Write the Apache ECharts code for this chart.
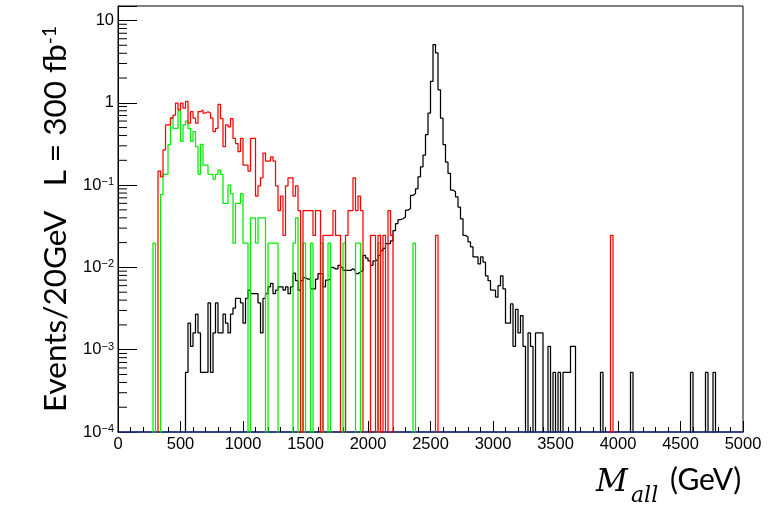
<!DOCTYPE html>
<html>
<head>
<meta charset="utf-8">
<script src="https://cdn.jsdelivr.net/npm/echarts@6/dist/echarts.min.js"></script>
<style>
  html, body { margin: 0; padding: 0; background: #fff; }
  #chart { width: 771px; height: 506px; }
</style>
</head>
<body>
<div id="chart"></div>
<script>
// Histograms of M_all in 20 GeV bins (events per bin for 300 fb^-1).
const BIN_WIDTH = 20;

// Black: resonance sample, dense bins from 540 GeV, then isolated bins in the tail.
const blackStart = 540;
const blackValues = [
  5.3e-4, 2.1e-3, 1.1e-3, 1.6e-3, 2.7e-3, 1.6e-3, 5.3e-4, 5.3e-4, 5.3e-4, 3.7e-3,
  5.3e-4, 1.6e-3, 3.7e-3, 1.6e-3, 1.6e-3, 2.7e-3, 2.1e-3, 1.6e-3, 2.7e-3, 3.2e-3,
  4.2e-3, 4.2e-3, 3.7e-3, 2.1e-3, 4.2e-3, 5.3e-3, 4.8e-3, 4.8e-3, 4.8e-3, 3.7e-3,
  1.6e-3, 4.2e-3, 4.8e-3, 5.8e-3, 6.4e-3, 4.8e-3, 5.3e-3, 5.8e-3, 5.8e-3, 5.3e-3,
  5.8e-3, 4.8e-3, 5.8e-3, 8.5e-3, 6.9e-3, 5.3e-3, 6.9e-3, 7.5e-3, 7.2e-3, 7.2e-3,
  5.5e-3, 5.5e-3, 7.2e-3, 8.4e-3, 8.4e-3, 5.8e-3, 7.0e-3, 7.2e-3, 1.0e-2, 9.6e-3,
  9.6e-3, 1.06e-2, 1.0e-2, 9.2e-3, 9.2e-3, 9.2e-3, 9.6e-3, 9.2e-3, 8.4e-3, 8.8e-3,
  9.2e-3, 1.4e-2, 1.3e-2, 1.2e-2, 1.06e-2, 1.2e-2, 1.25e-2, 1.4e-2, 1.6e-2, 1.7e-2,
  1.95e-2, 1.95e-2, 2.1e-2, 2.8e-2, 3.4e-2, 3.8e-2, 3.9e-2, 4.1e-2, 4.95e-2, 5.2e-2,
  7.5e-2, 7.9e-2, 9.0e-2, 0.126, 0.167, 0.232, 0.41, 0.75, 1.82, 5.1,
  4.04, 1.44, 0.65, 0.31, 0.19, 0.139, 0.087, 0.083, 0.072, 0.054,
  0.039, 0.0245, 0.0234, 0.0204, 0.0178, 0.0134, 0.0134, 0.011, 0.0134, 0.0116,
  7.9e-3, 6.9e-3, 5.3e-3, 5.3e-3, 4.35e-3, 6.0e-3, 7.9e-3, 5.5e-3, 2.1e-3, 2.1e-3,
  3.6e-3, 1.1e-3, 3.1e-3, 1.6e-3, 2.6e-3, 1.1e-3, 0, 1.6e-3, 1.1e-3, 0,
  1.6e-3, 1.6e-3, 1.6e-3, 0, 0, 1.1e-3, 0, 5.3e-4, 0, 5.3e-4,
  0, 5.3e-4, 5.3e-4, 5.3e-4, 1.1e-3, 1.1e-3
];
const blackTail = [[3860, 5.3e-4], [4100, 5.3e-4], [4580, 5.3e-4], [4700, 5.3e-4], [4760, 5.3e-4]];

// Red: background sample A.
const redStart = 320;
const redValues = [
  0.148, 0.126, 0.267, 0.54, 0.54, 0.65, 0.71, 0.99, 0.82, 0.99,
  0.86, 1.04, 0.565, 0.78, 0.65, 0.565, 0.78, 0.82, 0.75, 0.78,
  0.75, 0.65, 0.447, 0.49, 0.96, 0.64, 0.293, 0.54, 0.51, 0.64,
  0.37, 0.32, 0.255, 0.37, 0.175, 0.175, 0.148, 0.37, 0.37, 0.0735,
  0.098, 0.1225, 0.245, 0.196, 0.196, 0.22, 0.196, 0.098, 0.049, 0.0735,
  0.0245, 0.098, 0.1225, 0.1225, 0.0735, 0.098, 0.049, 0, 0.049, 0.049,
  0.049, 0.049, 0.0245, 0.049, 0.049, 0, 0.0245, 0.0245, 0.0245, 0.0245,
  0.049, 0.0245, 0.0245, 0, 0, 0.0245, 0.049, 0.049, 0.1225, 0.049,
  0.0735, 0.049, 0, 0, 0, 0.0245, 0.0245, 0, 0.0245, 0,
  0.0245, 0, 0.049, 0.0245
];
const redTail = [[2540, 0.0245], [3940, 0.0245]];

// Green: background sample B.
const greenStart = 280;
const greenValues = [
  0.0197, 0, 0, 0.077, 0.135, 0.135, 0.31, 0.66, 0.49, 0.49,
  0.80, 0.34, 0.54, 0.60, 0.49, 0.34, 0.447, 0.293, 0.135, 0.313,
  0.175, 0.175, 0.135, 0.135, 0.118, 0.135, 0.152, 0.135, 0.06, 0.06,
  0.1, 0.079, 0.0197, 0.06, 0.06, 0.079, 0.0197, 0.0197, 0, 0.04,
  0.04, 0.0197, 0.04, 0.04, 0.04, 0, 0.0197, 0.0197, 0.0197, 0.0197,
  0, 0, 0, 0, 0, 0, 0.0197, 0.04, 0, 0,
  0.0197, 0, 0, 0.0197, 0, 0, 0, 0.0197, 0, 0,
  0.0197, 0, 0, 0, 0, 0, 0.0197, 0, 0, 0,
  0, 0.0197, 0.0197
];
const greenTail = [[2080, 0.0197], [2360, 0.0197]];

// Axis ticks
const massTicks = [0, 500, 1000, 1500, 2000, 2500, 3000, 3500, 4000, 4500, 5000];
const decadeExponents = [-4, -3, -2, -1, 0, 1];
const minorMantissas = [2, 3, 4, 5, 6, 7, 8, 9];

const Y_MIN = 1e-4, Y_MAX = 15;
const BELOW_AXIS = 1e-6; // empty bins drop below the frame and get clipped

function stepPoints(start, values, tail) {
  const bins = new Map();
  values.forEach((v, i) => bins.set(start + i * BIN_WIDTH, v));
  tail.forEach(([x, v]) => bins.set(x, v));
  const edges = [...bins.keys()].sort((a, b) => a - b);
  const first = edges[0], last = edges[edges.length - 1];
  const pts = [[first, BELOW_AXIS]];
  for (let x = first; x <= last; x += BIN_WIDTH) {
    const v = bins.get(x) || 0;
    pts.push([x, v > 0 ? v : BELOW_AXIS]);
  }
  pts.push([last + BIN_WIDTH, BELOW_AXIS]);
  return pts;
}

function histSeries(name, color, pts, z) {
  return {
    name, type: 'line', step: 'end', data: pts, symbol: 'none', clip: true,
    lineStyle: { color, width: 1.25 }, z, animation: false, silent: true
  };
}

const minorTickData = [];
decadeExponents.forEach(e => minorMantissas.forEach(m => {
  const v = m * Math.pow(10, e);
  if (v > Y_MIN && v < Y_MAX) minorTickData.push([0, v]);
}));

function yLabel(v) {
  const lg = Math.log10(v);
  const e = Math.round(lg);
  if (Math.abs(lg - e) > 1e-6 || decadeExponents.indexOf(e) < 0) return '';
  if (e === 1) return '{b|10}';
  if (e === 0) return '{b|1}';
  return '{b|10}{s|\u2212' + (-e) + '}';
}

const chart = echarts.init(document.getElementById('chart'), null, { renderer: 'canvas' });
chart.setOption({
  animation: false,
  backgroundColor: '#fff',
  grid: { left: 118, right: 28, top: 6, bottom: 74, show: true, borderColor: '#000', borderWidth: 1, backgroundColor: 'transparent' },
  xAxis: {
    type: 'value', min: 0, max: 5000, interval: 500,
    axisLine: { show: true, lineStyle: { color: '#1c2f8c', width: 1.6 } },
    axisTick: { show: true, inside: true, length: 11, lineStyle: { color: '#000', width: 1 } },
    minorTick: { show: true, splitNumber: 5, length: 5, lineStyle: { color: '#000', width: 1 } },
    splitLine: { show: false },
    axisLabel: {
      color: '#000', fontSize: 16.5, fontFamily: 'Liberation Sans', margin: 4,
      formatter: v => massTicks.indexOf(Math.round(v)) >= 0 ? String(Math.round(v)) : ''
    },
    z: 3
  },
  yAxis: {
    type: 'log', logBase: 10, min: Y_MIN, max: Y_MAX,
    axisLine: { show: true, lineStyle: { color: '#000', width: 1 } },
    axisTick: { show: true, inside: true, length: 19, lineStyle: { color: '#000', width: 1 } },
    splitLine: { show: false },
    axisLabel: {
      margin: 4, formatter: yLabel,
      rich: {
        b: { fontSize: 16.5, fontFamily: 'Liberation Sans', color: '#000' },
        s: { fontSize: 11, fontFamily: 'Liberation Sans', color: '#000', verticalAlign: 'top', padding: [0, 0, 6, 0] }
      }
    },
    name: '{t|Events/20GeV   L = 300 fb}{s|-1}',
    nameLocation: 'middle', nameRotate: 90, nameGap: 46,
    nameTextStyle: {
      rich: {
        t: { fontSize: 31.5, fontFamily: 'Lato', color: '#000' },
        s: { fontSize: 19, fontFamily: 'Lato', color: '#000', verticalAlign: 'top', padding: [0, 0, 13, 0] }
      }
    }
  },
  graphic: [
    { type: 'text', left: 596, top: 467, style: { text: 'M', fontFamily: 'DejaVu Serif', fontStyle: 'italic', fontSize: 31, fill: '#000' } },
    { type: 'text', left: 631, top: 485, style: { text: 'all', fontFamily: 'DejaVu Serif', fontStyle: 'italic', fontSize: 22, fill: '#000' } },
    { type: 'text', left: 670, top: 465, style: { text: '(GeV)', fontFamily: 'Lato', fontSize: 30, fill: '#000' } }
  ],
  series: [
    {
      type: 'custom', name: 'minorTicks', data: minorTickData, silent: true, z: 4, clip: false,
      renderItem: (params, api) => {
        const p = api.coord([api.value(0), api.value(1)]);
        return { type: 'line', shape: { x1: p[0], y1: p[1], x2: p[0] + 9, y2: p[1] }, style: { stroke: '#000', lineWidth: 1 } };
      }
    },
    histSeries('black', '#000000', stepPoints(blackStart, blackValues, blackTail), 2),
    histSeries('green', '#00ee00', stepPoints(greenStart, greenValues, greenTail), 3),
    histSeries('red', '#ff0000', stepPoints(redStart, redValues, redTail), 4)
  ]
});
</script>
</body>
</html>
